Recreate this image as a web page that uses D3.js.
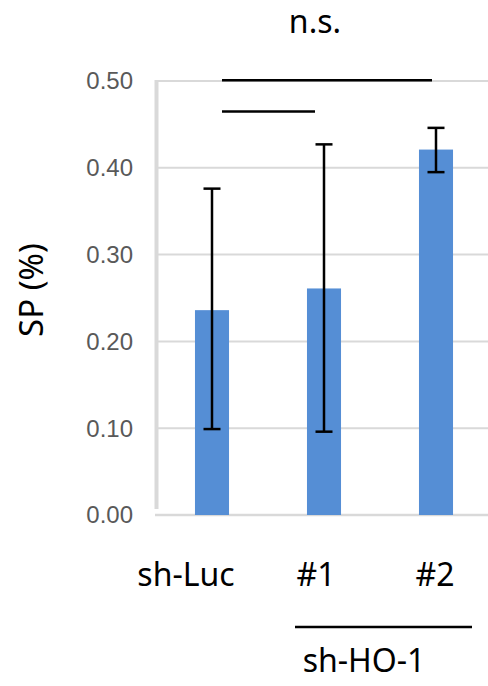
<!doctype html>
<html lang="en">
<head>
    <meta charset="UTF-8" />
    <title>SP (%)</title>
    <script src="https://d3js.org/d3.v7.min.js"></script>
    <style>
        body, html {
            margin: 0;
            padding: 0;
            background: #fff;
            overflow: hidden;
        }
        svg {
            display: block;
        }
        .tick-label {
            font-family: "Liberation Sans", Arial, sans-serif;
            font-size: 24px;
            fill: #595959;
        }
        .label {
            font-family: "Noto Sans", sans-serif;
            fill: #000;
        }
    </style>
</head>
<body>
    <svg id="chart"></svg>

    <script>
        // data
        const categories = ["sh-Luc", "#1", "#2"];
        const values = [0.236, 0.261, 0.421];
        const errLow = [0.099, 0.096, 0.395];
        const errHigh = [0.376, 0.427, 0.446];
        const yTicks = [0, 0.1, 0.2, 0.3, 0.4, 0.5];
        const brackets = [
            { from: "sh-Luc", to: "#2", y: 0.501 },
            { from: "sh-Luc", to: "#1", y: 0.465 }
        ];
        const sigLabel = "n.s.";
        const groupLabel = "sh-HO-1";
        const yTitle = "SP (%)";

        const width = 488;
        const height = 686;
        const svg = d3.select("#chart").attr("width", width).attr("height", height);

        const x = d3.scaleBand()
            .domain(categories)
            .range([156, 492])
            .paddingInner(0.696)
            .paddingOuter(0.348);

        const y = d3.scaleLinear()
            .domain([0, 0.5])
            .range([515, 81]);

        // gridlines
        svg.append("g")
            .selectAll("line")
            .data(yTicks)
            .join("line")
            .attr("x1", 155)
            .attr("x2", width)
            .attr("y1", d => y(d))
            .attr("y2", d => y(d))
            .attr("stroke", "#d9d9d9")
            .attr("stroke-width", d => d === 0 ? 2.5 : 2);

        // vertical axis line
        svg.append("line")
            .attr("x1", 156.5)
            .attr("x2", 156.5)
            .attr("y1", y(0.5) - 1)
            .attr("y2", y(0) - 6)
            .attr("stroke", "#d9d9d9")
            .attr("stroke-width", 4);

        // tick labels
        svg.append("g")
            .selectAll("text")
            .data(yTicks)
            .join("text")
            .attr("class", "tick-label")
            .attr("x", 133)
            .attr("y", d => y(d))
            .attr("dy", "0.35em")
            .attr("text-anchor", "end")
            .text(d3.format(".2f"));

        // bars
        svg.append("g")
            .selectAll("rect")
            .data(categories)
            .join("rect")
            .attr("x", d => x(d))
            .attr("y", (d, i) => y(values[i]))
            .attr("width", x.bandwidth())
            .attr("height", (d, i) => y(0) - y(values[i]))
            .attr("fill", "#558ed5");

        // error bars
        const capW = 8.5;
        const err = svg.append("g")
            .attr("stroke", "#000")
            .attr("stroke-width", 2.5);
        categories.forEach((c, i) => {
            const cx = x(c) + x.bandwidth() / 2;
            err.append("line")
                .attr("x1", cx).attr("x2", cx)
                .attr("y1", y(errLow[i])).attr("y2", y(errHigh[i]));
            [errLow[i], errHigh[i]].forEach(v => {
                err.append("line")
                    .attr("x1", cx - capW).attr("x2", cx + capW)
                    .attr("y1", y(v)).attr("y2", y(v));
            });
        });

        // significance lines
        const center = c => x(c) + x.bandwidth() / 2;
        svg.append("g")
            .selectAll("line")
            .data(brackets)
            .join("line")
            .attr("x1", d => center(d.from) + 10)
            .attr("x2", d => center(d.to) - (d.to === "#2" ? 4 : 9))
            .attr("y1", d => y(d.y))
            .attr("y2", d => y(d.y))
            .attr("stroke", "#000")
            .attr("stroke-width", 2.5);

        svg.append("text")
            .attr("class", "label")
            .attr("x", 315)
            .attr("y", 33)
            .attr("text-anchor", "middle")
            .attr("font-size", 32)
            .text(sigLabel);

        // y title
        svg.append("text")
            .attr("class", "label")
            .attr("transform", "translate(43,290) rotate(-90)")
            .attr("text-anchor", "middle")
            .attr("font-size", 33)
            .text(yTitle);

        // category labels
        const labelShift = [-26, -8, -1];
        svg.append("g")
            .selectAll("text")
            .data(categories)
            .join("text")
            .attr("class", "label")
            .attr("x", (d, i) => center(d) + labelShift[i])
            .attr("y", 586)
            .attr("text-anchor", "middle")
            .attr("font-size", 32)
            .text(d => d);

        // group line and label
        svg.append("line")
            .attr("x1", 295)
            .attr("x2", 472)
            .attr("y1", 627)
            .attr("y2", 627)
            .attr("stroke", "#000")
            .attr("stroke-width", 2.5);

        svg.append("text")
            .attr("class", "label")
            .attr("x", 364)
            .attr("y", 672)
            .attr("text-anchor", "middle")
            .attr("font-size", 32)
            .text(groupLabel);
    </script>
</body>
</html>
